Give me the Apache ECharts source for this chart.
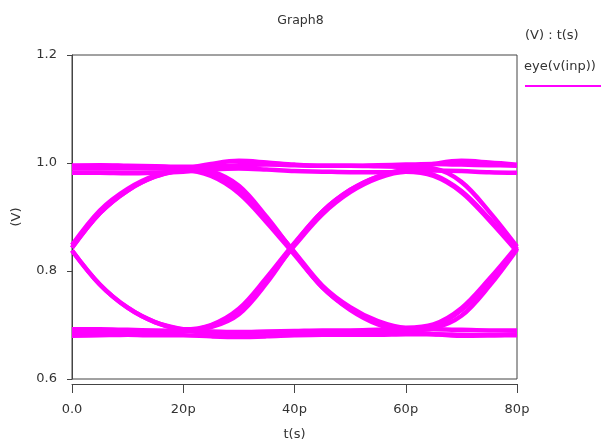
<!DOCTYPE html>
<html>
<head>
<meta charset="utf-8">
<script src="https://cdn.jsdelivr.net/npm/echarts@6/dist/echarts.min.js"></script>
<style>
  html, body { margin: 0; padding: 0; background: #fff; }
  #eye { width: 601px; height: 446px; }
</style>
</head>
<body>
<div id="eye"></div>
<script>
// eye diagram, Graph8

// time points (ps)
var times = [0, 5, 10, 15, 20, 25, 30, 35, 40, 45, 50, 55, 60, 65, 70, 75, 80];
var xTicks = ['0.0', '20p', '40p', '60p', '80p'];

// traces (V)
var hiFlat   = [0.995, 0.996, 0.995, 0.994, 0.993, 0.994, 0.996, 0.997, 0.996, 0.995, 0.995, 0.996, 0.997, 0.998, 0.997, 0.996, 0.995];
var hiFlat2  = [0.982, 0.982, 0.981, 0.982, 0.984, 0.988, 0.990, 0.988, 0.985, 0.984, 0.983, 0.983, 0.984, 0.986, 0.985, 0.983, 0.982];
var loFlat   = [0.692, 0.692, 0.691, 0.690, 0.689, 0.688, 0.687, 0.688, 0.689, 0.690, 0.690, 0.691, 0.692, 0.692, 0.691, 0.690, 0.690];
var loFlat2  = [0.683, 0.683, 0.682, 0.681, 0.681, 0.679, 0.678, 0.679, 0.681, 0.682, 0.682, 0.682, 0.683, 0.683, 0.682, 0.681, 0.681];
var upDownUp = [0.843, 0.907, 0.949, 0.975, 0.986, 0.976, 0.944, 0.890, 0.830, 0.770, 0.730, 0.704, 0.692, 0.698, 0.728, 0.782, 0.843];
var downUpDn = [0.838, 0.775, 0.732, 0.705, 0.692, 0.700, 0.730, 0.788, 0.852, 0.910, 0.950, 0.975, 0.986, 0.978, 0.948, 0.897, 0.838];
var upHoldDn = [0.843, 0.907, 0.949, 0.975, 0.988, 0.998, 1.004, 1.001, 0.997, 0.995, 0.995, 0.994, 0.993, 0.990, 0.965, 0.910, 0.845];
var hiDownLo = [0.995, 0.995, 0.994, 0.993, 0.991, 0.985, 0.958, 0.900, 0.833, 0.770, 0.728, 0.701, 0.688, 0.683, 0.680, 0.681, 0.683];
var loUpHi   = [0.685, 0.685, 0.686, 0.688, 0.690, 0.696, 0.720, 0.778, 0.850, 0.910, 0.950, 0.975, 0.988, 0.998, 1.004, 1.001, 0.997];
var dnHoldUp = [0.838, 0.775, 0.732, 0.705, 0.692, 0.683, 0.680, 0.681, 0.683, 0.685, 0.686, 0.688, 0.690, 0.694, 0.717, 0.772, 0.840];
var upDownUp2 = [0.848, 0.912, 0.952, 0.977, 0.988, 0.980, 0.951, 0.896, 0.835, 0.773, 0.733, 0.707, 0.695, 0.701, 0.731, 0.785, 0.846];
var loUpDn   = [0.680, 0.681, 0.682, 0.684, 0.688, 0.699, 0.725, 0.783, 0.847, 0.905, 0.946, 0.972, 0.984, 0.976, 0.946, 0.894, 0.836];
var hiDnUp   = [0.990, 0.990, 0.990, 0.990, 0.989, 0.982, 0.955, 0.897, 0.833, 0.770, 0.730, 0.704, 0.692, 0.698, 0.728, 0.782, 0.843];

var traces = [hiFlat, hiFlat2, loFlat, loFlat2, upDownUp, downUpDn, upHoldDn,
              hiDownLo, loUpHi, dnHoldUp, upDownUp2, loUpDn, hiDnUp];

var font = 'DejaVu Sans, Verdana, sans-serif';
var magenta = '#ff00ff';

var series = traces.map(function (tr) {
    return {
        name: 'eye(v(inp))',
        type: 'line',
        smooth: 0.35,
        showSymbol: false,
        silent: true,
        lineStyle: { color: magenta, width: 4.5 },
        data: times.map(function (t, i) { return [t, tr[i]]; })
    };
});

var chart = echarts.init(document.getElementById('eye'));
chart.setOption({
    animation: false,
    backgroundColor: '#fff',
    title: {
        text: 'Graph8',
        left: 'center',
        top: 9,
        textStyle: { fontFamily: font, fontSize: 12.5, fontWeight: 'normal', color: '#333' }
    },
    grid: {
        left: 72,
        right: 84,
        top: 55,
        bottom: 63,
        show: true,
        borderColor: '#444',
        borderWidth: 1
    },
    xAxis: {
        type: 'value',
        min: 0,
        max: 80,
        interval: 20,
        offset: 5,
        name: 't(s)',
        nameLocation: 'middle',
        nameGap: 44,
        nameTextStyle: { fontFamily: font, fontSize: 13, color: '#333' },
        axisLine: { show: true, lineStyle: { color: '#444', width: 1 } },
        axisTick: { show: true, length: 9, lineStyle: { color: '#444' } },
        splitLine: { show: false },
        axisLabel: {
            margin: 19,
            fontFamily: font,
            fontSize: 13,
            color: '#333',
            formatter: function (v) { return xTicks[v / 20]; }
        }
    },
    yAxis: {
        type: 'value',
        min: 0.6,
        max: 1.2,
        interval: 0.2,
        offset: 4,
        name: '(V)',
        nameLocation: 'middle',
        nameGap: 45,
        nameRotate: 90,
        nameTextStyle: { fontFamily: font, fontSize: 13, color: '#333' },
        axisLine: { show: true, lineStyle: { color: '#444', width: 1 } },
        axisTick: { show: true, length: 5, lineStyle: { color: '#444' } },
        splitLine: { show: false },
        axisLabel: {
            margin: 11,
            fontFamily: font,
            fontSize: 13,
            color: '#333',
            formatter: function (v) { return v.toFixed(1); }
        }
    },
    graphic: [
        { type: 'text', left: 525, top: 29, style: { text: '(V) : t(s)', font: '13px ' + font, fill: '#333' } },
        { type: 'text', left: 524, top: 60, style: { text: 'eye(v(inp))', font: '13px ' + font, fill: '#333' } },
        { type: 'line', shape: { x1: 525, y1: 86, x2: 601, y2: 86 }, style: { stroke: magenta, lineWidth: 2 } }
    ],
    series: series
});
</script>
</body>
</html>
